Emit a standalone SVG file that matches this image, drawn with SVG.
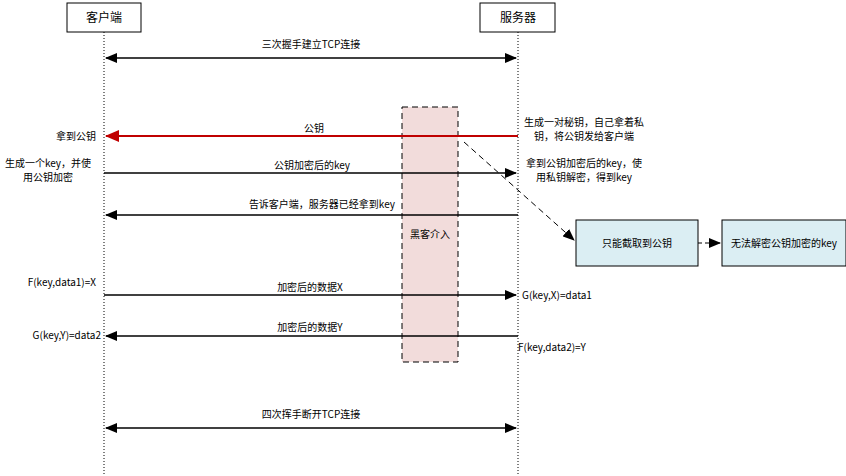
<svg xmlns="http://www.w3.org/2000/svg" width="846" height="476" viewBox="0 0 846 476">
<style>
text{font-family:"Noto Sans CJK SC","Liberation Sans",sans-serif;font-size:10px;fill:#000}
.m{text-anchor:middle}.e{text-anchor:end}
.ln{stroke:#000;stroke-width:1.5;fill:none}
.life{stroke:#000;stroke-width:1;stroke-dasharray:1,2;fill:none}
.hd{fill:#fff;stroke:#000;stroke-width:1}
.bx{fill:#dbeef3;stroke:#000;stroke-width:1}
</style>
<defs>
<marker id="a" markerWidth="12" markerHeight="10" refX="11" refY="5" orient="auto-start-reverse" markerUnits="userSpaceOnUse"><path d="M0,0L12,5L0,10z" fill="#000"/></marker>
<marker id="r" markerWidth="14" markerHeight="12" refX="13" refY="6" orient="auto" markerUnits="userSpaceOnUse"><path d="M0,0L14,6L0,12z" fill="#c00000"/></marker>
</defs>
<rect width="846" height="476" fill="#fff"/>
<g id="client"><line class="life" x1="104" y1="32" x2="104" y2="476"/><rect class="hd" x="67" y="3" width="74" height="29"/><text class="m" x="104" y="22" style="font-size:12px">客户端</text></g>
<g id="server"><line class="life" x1="518" y1="32" x2="518" y2="476"/><rect class="hd" x="480" y="3" width="75" height="29"/><text class="m" x="518" y="22" style="font-size:12px">服务器</text></g>
<g id="hacker"><rect x="402" y="107" width="56" height="255" fill="#f2dcdb" stroke="#000" stroke-dasharray="6,4"/><text class="m" x="430" y="238">黑客介入</text></g>
<g id="box1"><rect class="bx" x="576" y="220" width="122" height="46"/><text class="m" x="637" y="247">只能截取到公钥</text></g>
<g id="box2"><rect class="bx" x="722" y="220" width="124" height="46"/><text class="m" x="784" y="247">无法解密公钥加密的key</text></g>
<g id="connectors">
<line class="ln" x1="106" y1="58" x2="516" y2="58" marker-start="url(#a)" marker-end="url(#a)"/>
<line x1="518" y1="136" x2="106" y2="136" stroke="#c00000" stroke-width="2" marker-end="url(#r)"/>
<line class="ln" x1="104" y1="173" x2="516" y2="173" marker-end="url(#a)"/>
<line class="ln" x1="518" y1="215" x2="106" y2="215" marker-end="url(#a)"/>
<line class="ln" x1="104" y1="295" x2="516" y2="295" marker-end="url(#a)"/>
<line class="ln" x1="518" y1="336" x2="106" y2="336" marker-end="url(#a)"/>
<line class="ln" x1="106" y1="428" x2="516" y2="428" marker-start="url(#a)" marker-end="url(#a)"/>
<line x1="464" y1="142" x2="574" y2="240" stroke="#000" stroke-dasharray="6,4" marker-end="url(#a)"/>
<line x1="698" y1="243" x2="720" y2="243" stroke="#000" stroke-dasharray="4,3" marker-end="url(#a)"/>
</g>
<g id="labels">
<text class="m" x="311" y="48">三次握手建立TCP连接</text>
<text class="m" x="314" y="132">公钥</text>
<text class="m" x="312" y="169">公钥加密后的key</text>
<text class="e" x="395" y="208">告诉客户端，服务器已经拿到key</text>
<text class="m" x="310" y="291">加密后的数据X</text>
<text class="m" x="310" y="331">加密后的数据Y</text>
<text class="m" x="311" y="418">四次挥手断开TCP连接</text>
<text class="e" x="96" y="140">拿到公钥</text>
<text class="m" x="48" y="167">生成一个key，并使</text>
<text class="m" x="48" y="181">用公钥加密</text>
<text class="e" x="96" y="286">F(key,data1)=X</text>
<text class="e" x="101" y="339">G(key,Y)=data2</text>
<text class="m" x="584" y="126">生成一对秘钥，自己拿着私</text>
<text class="m" x="584" y="140">钥，将公钥发给客户端</text>
<text class="m" x="584" y="167">拿到公钥加密后的key，使</text>
<text class="m" x="584" y="181">用私钥解密，得到key</text>
<text x="522" y="299">G(key,X)=data1</text>
<text x="518" y="351">F(key,data2)=Y</text>
</g>
</svg>
